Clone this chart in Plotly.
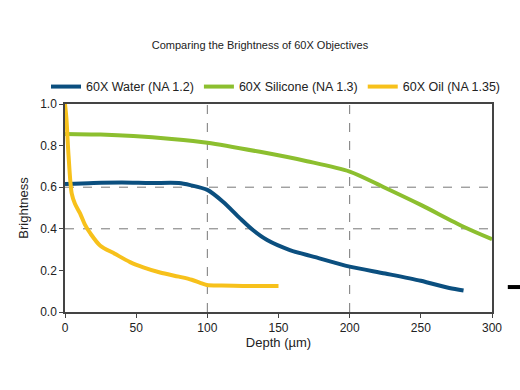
import plotly.graph_objects as go

water_x = [0, 20, 40, 60, 80, 88, 100, 111, 123, 132, 142, 158, 175, 200, 225, 250, 270, 280]
water_y = [0.615, 0.62, 0.622, 0.62, 0.62, 0.61, 0.587, 0.53, 0.45, 0.394, 0.346, 0.298, 0.265, 0.218, 0.185, 0.15, 0.115, 0.103]

sil_x = [0, 25, 48, 75, 100, 137, 170, 200, 224, 250, 280, 300]
sil_y = [0.856, 0.853, 0.846, 0.832, 0.814, 0.77, 0.725, 0.675, 0.60, 0.515, 0.41, 0.35]

oil_x = [0, 1, 2.5, 4.7, 7, 10.5, 14, 17.6, 24.6, 35, 45.7, 55, 66.8, 80, 89, 95, 99.6, 110, 125, 150]
oil_y = [1.0, 0.93, 0.75, 0.57, 0.52, 0.475, 0.42, 0.38, 0.32, 0.28, 0.24, 0.215, 0.19, 0.17, 0.155, 0.14, 0.13, 0.127, 0.125, 0.125]

names = ["60X Water (NA 1.2)", "60X Silicone (NA 1.3)", "60X Oil (NA 1.35)"]
colors = ["#0b4f7f", "#8cbf2f", "#f7c11b"]

grid_x = [100, 200]
grid_y = [0.4, 0.6]

x_ticks = [0, 50, 100, 150, 200, 250, 300]
y_ticks = [0.0, 0.2, 0.4, 0.6, 0.8, 1.0]
y_ticktext = ["0.0", "0.2", "0.4", "0.6", "0.8", "1.0"]

FONT = "Liberation Sans, Arial, sans-serif"

fig = go.Figure()
for xs, ys, nm, c in zip([water_x, sil_x, oil_x], [water_y, sil_y, oil_y], names, colors):
    fig.add_trace(go.Scatter(x=xs, y=ys, mode="lines", name=nm,
                             line=dict(color=c, width=4, shape="spline", smoothing=0.8)))

shapes = []
for gx in grid_x:
    shapes.append(dict(type="line", xref="x", yref="paper", x0=gx, x1=gx, y0=0, y1=1,
                       line=dict(color="#777777", width=1, dash="dash"), layer="below"))
for gy in grid_y:
    shapes.append(dict(type="line", xref="paper", yref="y", x0=0, x1=1, y0=gy, y1=gy,
                       line=dict(color="#777777", width=1, dash="dash"), layer="below"))
# stray black dash to the right of the plot
shapes.append(dict(type="line", xref="paper", yref="paper", x0=1.037, x1=1.07, y0=0.12, y1=0.12,
                   line=dict(color="black", width=4)))

fig.update_layout(
    width=520, height=390,
    margin=dict(l=65, r=28, t=104, b=78, autoexpand=False),
    paper_bgcolor="white", plot_bgcolor="white",
    font=dict(family=FONT, color="#222222", size=12),
    title=dict(text="Comparing the Brightness of 60X Objectives", x=0.5, xanchor="center",
               y=1 - 45 / 390, yanchor="middle", font=dict(size=11, color="#222222")),
    legend=dict(orientation="h", x=-19 / 427, xanchor="left",
                y=1.082, yanchor="middle",
                font=dict(size=12.5), itemwidth=30,
                bgcolor="rgba(0,0,0,0)"),
    shapes=shapes,
    showlegend=True,
)
fig.update_xaxes(range=[0, 300], tickvals=x_ticks, showgrid=False, zeroline=False, automargin=False,
                 showline=True, linecolor="#444444", linewidth=1.5, mirror=True,
                 ticks="outside", ticklen=4, tickcolor="#444444",
                 title=dict(text="Depth (µm)", font=dict(size=13), standoff=2),
                 tickfont=dict(size=12))
fig.update_yaxes(range=[0, 1.0], tickvals=y_ticks, ticktext=y_ticktext, showgrid=False, zeroline=False,
                 automargin=False,
                 showline=True, linecolor="#444444", linewidth=1.5, mirror=True,
                 ticks="outside", ticklen=4, tickcolor="#444444",
                 title=dict(text="Brightness", font=dict(size=13), standoff=9),
                 tickfont=dict(size=12))

fig.write_html("out.html", config={"displayModeBar": False},
               post_script="document.body.style.margin='0';")
